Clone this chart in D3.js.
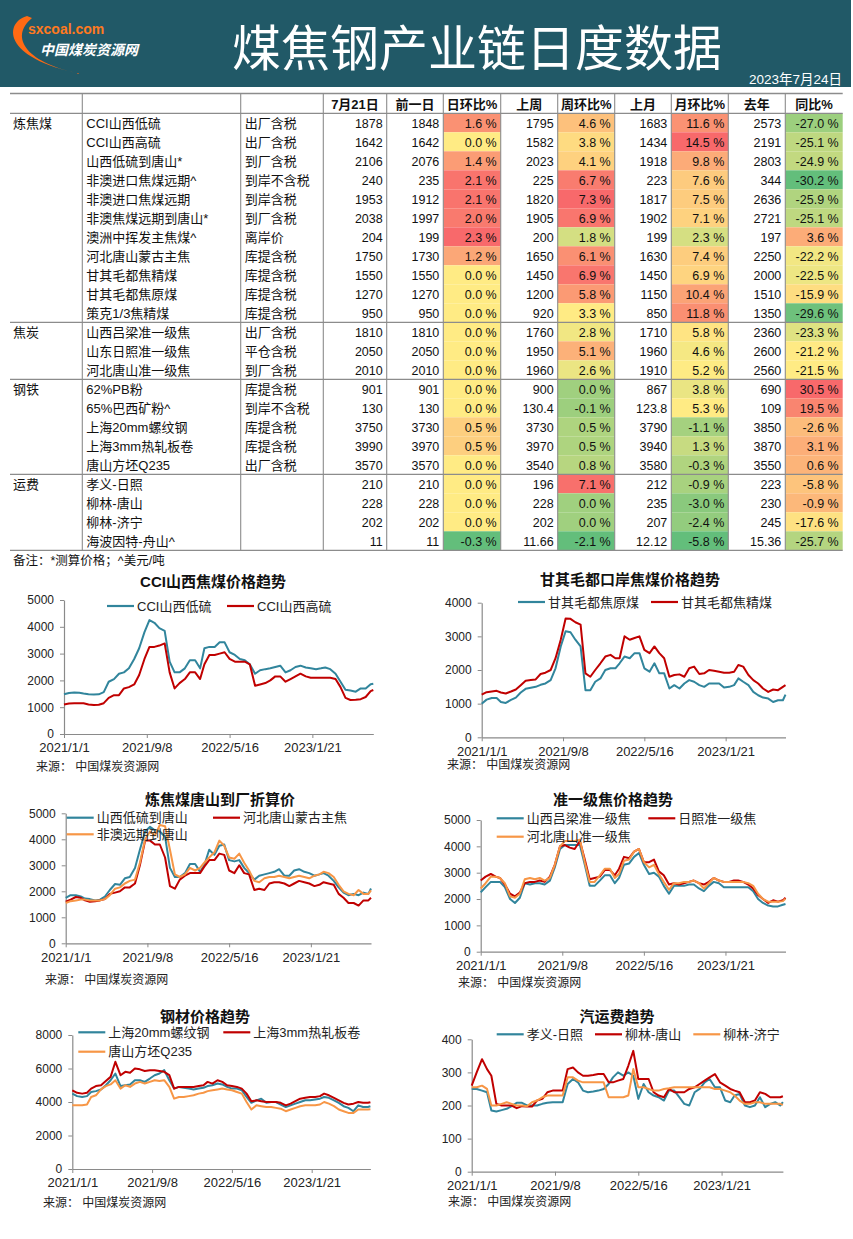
<!DOCTYPE html>
<html>
<head>
<meta charset="utf-8">
<script src="https://cdn.jsdelivr.net/npm/d3@7"></script>
<style>
  body { margin: 0; background: #fff; }
  svg { display: block; }
  text { font-family: "Liberation Sans", "Noto Sans CJK SC", sans-serif; }
</style>
</head>
<body>
<svg id="board" width="853" height="1239"></svg>
<script>
// ---- table data ----
const groups = [["炼焦煤", 11], ["焦炭", 3], ["钢铁", 5], ["运费", 4]];
const itemNames = ["CCI山西低硫", "CCI山西高硫", "山西低硫到唐山*", "非澳进口焦煤远期^", "非澳进口焦煤远期", "非澳焦煤远期到唐山*",
  "澳洲中挥发主焦煤^", "河北唐山蒙古主焦", "甘其毛都焦精煤", "甘其毛都焦原煤", "策克1/3焦精煤",
  "山西吕梁准一级焦", "山东日照准一级焦", "河北唐山准一级焦",
  "62%PB粉", "65%巴西矿粉^", "上海20mm螺纹钢", "上海3mm热轧板卷", "唐山方坯Q235",
  "孝义-日照", "柳林-唐山", "柳林-济宁", "海波因特-舟山^"];
const itemTypes = ["出厂含税", "出厂含税", "到厂含税", "到岸不含税", "到岸含税", "到厂含税", "离岸价", "库提含税", "库提含税", "库提含税", "库提含税",
  "出厂含税", "平仓含税", "到厂含税",
  "库提含税", "到岸不含税", "库提含税", "库提含税", "出厂含税",
  "", "", "", ""];
const headers = ["7月21日", "前一日", "日环比%", "上周", "周环比%", "上月", "月环比%", "去年", "同比%"];
const today = [1878, 1642, 2106, 240, 1953, 2038, 204, 1750, 1550, 1270, 950, 1810, 2050, 2010, 901, 130, 3750, 3990, 3570, 210, 228, 202, 11];
const prevDay = [1848, 1642, 2076, 235, 1912, 1997, 199, 1730, 1550, 1270, 950, 1810, 2050, 2010, 901, 130, 3730, 3970, 3570, 210, 228, 202, 11];
const dayChg = [1.6, 0.0, 1.4, 2.1, 2.1, 2.0, 2.3, 1.2, 0.0, 0.0, 0.0, 0.0, 0.0, 0.0, 0.0, 0.0, 0.5, 0.5, 0.0, 0.0, 0.0, 0.0, -0.3];
const lastWeek = [1795, 1582, 2023, 225, 1820, 1905, 200, 1650, 1450, 1200, 920, 1760, 1950, 1960, 900, 130.4, 3730, 3970, 3540, 196, 228, 202, 11.66];
const weekChg = [4.6, 3.8, 4.1, 6.7, 7.3, 6.9, 1.8, 6.1, 6.9, 5.8, 3.3, 2.8, 5.1, 2.6, 0.0, -0.1, 0.5, 0.5, 0.8, 7.1, 0.0, 0.0, -2.1];
const lastMonth = [1683, 1434, 1918, 223, 1817, 1902, 199, 1630, 1450, 1150, 850, 1710, 1960, 1910, 867, 123.8, 3790, 3940, 3580, 212, 235, 207, 12.12];
const monthChg = [11.6, 14.5, 9.8, 7.6, 7.5, 7.1, 2.3, 7.4, 6.9, 10.4, 11.8, 5.8, 4.6, 5.2, 3.8, 5.3, -1.1, 1.3, -0.3, -0.9, -3.0, -2.4, -5.8];
const lastYear = [2573, 2191, 2803, 344, 2636, 2721, 197, 2250, 2000, 1510, 1350, 2360, 2600, 2560, 690, 109, 3850, 3870, 3550, 223, 230, 245, 15.36];
const yoyChg = [-27.0, -25.1, -24.9, -30.2, -25.9, -25.1, 3.6, -22.2, -22.5, -15.9, -29.6, -23.3, -21.2, -21.5, 30.5, 19.5, -2.6, 3.1, 0.6, -5.8, -0.9, -17.6, -25.7];

// ---- chart data (half-monthly readings) ----
const dates = ["2021-01-01", "2021-01-16", "2021-02-01", "2021-02-16", "2021-03-01", "2021-03-16", "2021-04-01", "2021-04-16",
  "2021-05-01", "2021-05-16", "2021-06-01", "2021-06-16", "2021-07-01", "2021-07-16", "2021-08-01", "2021-08-16",
  "2021-09-01", "2021-09-16", "2021-10-01", "2021-10-16", "2021-11-01", "2021-11-16", "2021-12-01", "2021-12-16",
  "2022-01-01", "2022-01-16", "2022-02-01", "2022-02-16", "2022-03-01", "2022-03-16", "2022-04-01", "2022-04-16",
  "2022-05-01", "2022-05-16", "2022-06-01", "2022-06-16", "2022-07-01", "2022-07-16", "2022-08-01", "2022-08-16",
  "2022-09-01", "2022-09-16", "2022-10-01", "2022-10-16", "2022-11-01", "2022-11-16", "2022-12-01", "2022-12-16",
  "2023-01-01", "2023-01-16", "2023-02-01", "2023-02-16", "2023-03-01", "2023-03-16", "2023-04-01", "2023-04-16",
  "2023-05-01", "2023-05-16", "2023-06-01", "2023-06-16", "2023-07-01", "2023-07-16", "2023-07-24"];
const xTicks = ["2021-01-01", "2021-09-08", "2022-05-16", "2023-01-21"];

const cciLow = [1480, 1530, 1550, 1540, 1510, 1480, 1470, 1480, 1560, 1950, 2050, 2250, 2300, 2450, 2800, 3200, 3800, 4250, 4150, 3950,
  3850, 2700, 2300, 2300, 2450, 2750, 2750, 2450, 3200, 3250, 3250, 3420, 3420, 3050, 2950, 2800, 2750, 2600, 2250, 2380,
  2420, 2450, 2500, 2550, 2300, 2380, 2500, 2550, 2480, 2450, 2420, 2450, 2480, 2420, 2250, 1950, 1650, 1620, 1580, 1700,
  1700, 1860, 1878];
const cciHigh = [1100, 1140, 1150, 1150, 1150, 1100, 1080, 1090, 1150, 1350, 1450, 1450, 1700, 1750, 1850, 2200, 2800, 3250, 3250, 3300,
  3380, 2300, 1700, 1900, 2050, 2300, 2300, 2050, 2600, 2950, 2950, 3000, 3050, 2800, 2700, 2700, 2700, 2600, 1800, 1850,
  1900, 2000, 2150, 2150, 1950, 2050, 2150, 2250, 2150, 2100, 2100, 2100, 2100, 2100, 2050, 1750, 1350, 1270, 1280, 1300,
  1380, 1600, 1642];
const gqRaw = [1000, 1120, 1170, 1170, 1050, 1020, 1110, 1180, 1330, 1440, 1470, 1500, 1560, 1600, 1700, 2050, 2700, 3150, 3120, 2900,
  2700, 1400, 1400, 1650, 1750, 2000, 2050, 2050, 2200, 2400, 2350, 2500, 2500, 2050, 1950, 2200, 1900, 1900, 1450, 1550,
  1450, 1600, 1700, 1650, 1550, 1500, 1600, 1600, 1600, 1480, 1500, 1550, 1750, 1650, 1550, 1350, 1250, 1180, 1150, 1050,
  1100, 1100, 1270];
const gqClean = [1270, 1340, 1360, 1380, 1330, 1300, 1360, 1420, 1550, 1680, 1700, 1720, 1880, 1920, 2000, 2350, 2900, 3530, 3520, 3420,
  3350, 1900, 1800, 2000, 2200, 2400, 2450, 2350, 2350, 3000, 2900, 2950, 3000, 2600, 2500, 2700, 2500, 2350, 1800, 1850,
  1870, 1800, 2050, 2100, 1880, 1900, 2000, 1980, 1950, 1920, 1920, 1950, 2150, 2100, 1850, 1700, 1600, 1450, 1350, 1420,
  1400, 1500, 1550];
const tsLowS = [1750, 1850, 1850, 1800, 1720, 1700, 1650, 1680, 1800, 2050, 2280, 2250, 2500, 2550, 2900, 3600, 4300, 4480, 4350, 4300,
  4100, 2900, 2550, 2550, 2700, 3050, 3050, 2750, 3000, 3600, 3400, 3750, 3800, 3200, 3150, 3200, 2900, 2700, 2450, 2600,
  2650, 2700, 2750, 2850, 2600, 2600, 2800, 2850, 2750, 2700, 2600, 2650, 2700, 2600, 2400, 2150, 1950, 1850, 1900, 1850,
  1950, 1900, 2106];
const tsMongol = [1600, 1680, 1780, 1750, 1650, 1600, 1620, 1650, 1700, 1900, 1950, 2000, 2150, 2150, 2300, 3000, 3950, 3950, 3800, 3800,
  3300, 2200, 2100, 2450, 2600, 2700, 2700, 2700, 2950, 3200, 3200, 3450, 3400, 2800, 2700, 3000, 2700, 2650, 2050, 2100,
  2050, 2300, 2350, 2350, 2300, 2200, 2300, 2400, 2350, 2300, 2200, 2250, 2350, 2300, 2250, 1900, 1750, 1550, 1550, 1450,
  1650, 1650, 1750];
const tsNonAus = [1550, 1620, 1650, 1680, 1680, 1650, 1650, 1650, 1700, 1850, 2100, 2150, 2300, 2400, 2450, 3100, 4000, 4300, 4150, 4550,
  4500, 3600, 2650, 2550, 2650, 2900, 2800, 2900, 3100, 3300, 3500, 3950, 3750, 3300, 3250, 3450, 3100, 2800, 2400, 2350,
  2500, 2550, 2550, 2600, 2550, 2500, 2550, 2600, 2550, 2500, 2600, 2650, 2750, 2700, 2550, 2250, 2000, 1900, 1850, 2050,
  1900, 1900, 2038];
const llCoke = [2250, 2450, 2650, 2650, 2650, 2450, 2000, 1850, 2050, 2600, 2550, 2600, 2600, 2550, 2700, 3200, 3900, 4050, 4050, 4050,
  4050, 3300, 2500, 2500, 2700, 2900, 2900, 2600, 2800, 3300, 3350, 3600, 3750, 3300, 2950, 3000, 2850, 2500, 2200, 2500,
  2500, 2500, 2550, 2550, 2400, 2300, 2500, 2650, 2600, 2450, 2450, 2450, 2450, 2450, 2450, 2300, 2000, 1850, 1750, 1720,
  1720, 1780, 1810];
const rzCoke = [2700, 2850, 2950, 2850, 2800, 2550, 2200, 2100, 2250, 2600, 2650, 2650, 2700, 2650, 2850, 3300, 4000, 4050, 3950, 3900,
  4200, 3500, 2750, 2800, 2850, 3100, 3100, 2900, 3150, 3600, 3550, 3800, 3900, 3400, 3400, 3500, 3050, 2900, 2550, 2600,
  2550, 2600, 2650, 2700, 2600, 2550, 2650, 2800, 2700, 2650, 2650, 2700, 2700, 2650, 2550, 2400, 2150, 2000, 1850, 1950,
  1900, 1950, 2050];
const tsCoke = [2400, 2600, 2850, 2850, 2800, 2600, 2100, 2050, 2200, 2750, 2800, 2750, 2800, 2700, 2800, 3300, 4000, 4200, 4200, 4200,
  4250, 3400, 2650, 2650, 2900, 3150, 3150, 2800, 2950, 3450, 3500, 3800, 3900, 3400, 3200, 3300, 2950, 2650, 2350, 2600,
  2600, 2650, 2650, 2700, 2600, 2400, 2600, 2800, 2700, 2650, 2650, 2650, 2650, 2650, 2600, 2500, 2200, 2000, 1900, 1900,
  1900, 1920, 2010];
const rebar = [4500, 4350, 4300, 4350, 4600, 4650, 4750, 5000, 5300, 5700, 4950, 5000, 5050, 5300, 5300, 5200, 5400, 5600, 5700, 5900,
  5300, 4800, 4900, 4850, 4800, 4750, 4800, 4850, 4950, 5000, 5100, 5050, 4900, 4800, 4800, 4700, 4300, 3950, 4100, 4200,
  3950, 4000, 4000, 3850, 3700, 3800, 3900, 4000, 4100, 4100, 4150, 4200, 4300, 4250, 4100, 3950, 3750, 3650, 3450, 3800,
  3700, 3700, 3750];
const hotCoil = [4700, 4550, 4500, 4550, 4800, 4950, 5000, 5250, 5500, 6400, 5600, 5800, 5750, 6000, 5950, 5850, 5900, 5900, 5850, 5800,
  5600, 4800, 4900, 4900, 4900, 4900, 4950, 5000, 5200, 5100, 5300, 5200, 5000, 4950, 4900, 4800, 4500, 4050, 4100, 4050,
  4000, 4000, 4000, 3950, 3800, 3900, 4050, 4200, 4250, 4300, 4300, 4350, 4500, 4400, 4250, 4100, 3950, 3850, 3900, 4000,
  3950, 3950, 3990];
const billet = [3800, 3800, 3800, 3850, 4300, 4400, 4750, 4950, 5050, 5300, 4800, 5000, 4900, 5100, 5200, 5100, 5200, 5300, 5250, 5300,
  4900, 4200, 4300, 4300, 4350, 4400, 4500, 4550, 4650, 4700, 4750, 4800, 4750, 4700, 4600, 4500, 4000, 3550, 3800, 3750,
  3700, 3700, 3650, 3600, 3450, 3550, 3650, 3750, 3800, 3800, 3800, 3850, 4000, 3900, 3750, 3550, 3450, 3350, 3350, 3550,
  3550, 3550, 3570];
const xyRz = [250, 250, 245, 240, 185, 182, 186, 190, 198, 208, 208, 200, 200, 200, 205, 208, 210, 210, 210, 265,
  280, 270, 245, 240, 242, 245, 250, 265, 285, 300, 290, 300, 290, 220, 265, 240, 230, 225, 215, 245,
  245, 225, 205, 200, 240, 250, 270, 280, 255, 255, 215, 210, 230, 235, 200, 195, 200, 225, 195, 205,
  210, 200, 210];
const llTs = [260, 300, 340, 310, 290, 205, 200, 200, 200, 192, 198, 197, 197, 215, 220, 240, 245, 245, 245, 310,
  315, 300, 290, 290, 292, 295, 295, 270, 270, 275, 280, 320, 365, 280, 280, 280, 240, 230, 225, 250,
  240, 240, 240, 250, 255, 265, 275, 285, 295, 270, 260, 250, 245, 240, 210, 210, 215, 240, 235, 225,
  225, 225, 228];
const llJn = [255, 255, 260, 250, 200, 200, 205, 210, 205, 200, 200, 198, 210, 215, 225, 230, 230, 230, 230, 285,
  285, 275, 270, 270, 270, 270, 270, 225, 225, 225, 225, 230, 310, 255, 255, 250, 245, 245, 250, 252,
  255, 255, 255, 255, 255, 255, 255, 255, 250, 250, 245, 240, 230, 215, 205, 205, 210, 210, 205, 205,
  205, 205, 202];

const TEAL = "#31859C", RED = "#C00000", ORANGE = "#F79646";

const svg = d3.select("#board");
const parseDate = d3.timeParse("%Y-%m-%d");
const dateObjs = dates.map(parseDate);

// ---- header band ----
svg.append("rect").attr("x", 0).attr("y", 0).attr("width", 851).attr("height", 87).attr("fill", "#215967");
svg.append("path")
  .attr("d", "M27,16 C5,22 0,58 82,74 C28,64 8,38 32,18 Z")
  .attr("fill", "#FF6A13");
svg.append("text").attr("x", 28).attr("y", 34).attr("fill", "#FF7A1F")
  .attr("font-size", "14px").attr("font-weight", "bold").text("sxcoal.com");
svg.append("text").attr("x", 40).attr("y", 55).attr("fill", "#fff")
  .attr("font-size", "14px").attr("font-weight", "bold").attr("font-style", "italic").text("中国煤炭资源网");
svg.append("text").attr("x", 477).attr("y", 66).attr("fill", "#fff").attr("text-anchor", "middle")
  .attr("font-size", "49px").style("font-family", "'Noto Sans CJK SC', sans-serif").text("煤焦钢产业链日度数据");
svg.append("text").attr("x", 842).attr("y", 84).attr("fill", "#fff").attr("text-anchor", "end")
  .attr("font-size", "13.5px").text("2023年7月24日");

// ---- table ----
const colX = [10, 82.3, 240.7, 323.3, 386.7, 443.3, 500.7, 557.7, 614.7, 671.3, 728.3, 785.3, 842.7];
const tableTop = 93.5, headH = 19.8, rowH = 19;
const bodyTop = tableTop + headH;
const nRows = itemNames.length;
const tableBottom = bodyTop + nRows * rowH;
const numCols = [today, prevDay, dayChg, lastWeek, weekChg, lastMonth, monthChg, lastYear, yoyChg];
const isPct = [false, false, true, false, true, false, true, false, true];

const tbl = svg.append("g");

// conditional colours, one scale per percentage column
numCols.forEach((vals, c) => {
  if (!isPct[c]) return;
  const sorted = vals.slice().sort(d3.ascending);
  const color = d3.scaleLinear()
    .domain([d3.min(vals), d3.quantile(sorted, 0.5), d3.max(vals)])
    .range(["#63BE7B", "#FFEB84", "#F8696B"]);
  tbl.selectAll(null).data(vals).join("rect")
    .attr("x", colX[c + 3]).attr("y", (d, i) => bodyTop + i * rowH)
    .attr("width", colX[c + 4] - colX[c + 3]).attr("height", rowH)
    .attr("fill", d => color(d));
});

// grid lines
const hLines = [tableTop, bodyTop];
let acc = 0;
groups.forEach(g => { acc += g[1]; hLines.push(bodyTop + acc * rowH); });
tbl.selectAll(null).data(hLines).join("line")
  .attr("x1", colX[0]).attr("x2", colX[12])
  .attr("y1", d => d).attr("y2", d => d)
  .attr("stroke", "#8c8c8c").attr("stroke-width", 1.3);
tbl.selectAll(null).data(colX.slice(1, 12)).join("line")
  .attr("x1", d => d).attr("x2", d => d)
  .attr("y1", tableTop).attr("y2", tableBottom)
  .attr("stroke", "#8c8c8c").attr("stroke-width", 1.1);

// header labels
tbl.selectAll(null).data(headers).join("text")
  .attr("x", (d, i) => (colX[i + 3] + colX[i + 4]) / 2)
  .attr("y", tableTop + 15)
  .attr("text-anchor", "middle").attr("font-size", "13px").attr("font-weight", "bold")
  .attr("fill", "#111").text(d => d);

// group labels
acc = 0;
groups.forEach(g => {
  tbl.append("text").attr("x", 13).attr("y", bodyTop + acc * rowH + 14.5)
    .attr("font-size", "13px").attr("fill", "#111").text(g[0]);
  acc += g[1];
});

tbl.selectAll(null).data(itemNames).join("text")
  .attr("x", colX[1] + 4).attr("y", (d, i) => bodyTop + i * rowH + 14.5)
  .attr("font-size", "13px").attr("fill", "#111").text(d => d);
tbl.selectAll(null).data(itemTypes).join("text")
  .attr("x", colX[2] + 4).attr("y", (d, i) => bodyTop + i * rowH + 14.5)
  .attr("font-size", "13px").attr("fill", "#111").text(d => d);

numCols.forEach((vals, c) => {
  tbl.selectAll(null).data(vals).join("text")
    .attr("x", colX[c + 4] - 4)
    .attr("y", (d, i) => bodyTop + i * rowH + 14.5)
    .attr("text-anchor", "end").attr("font-size", "12.5px").attr("fill", "#111")
    .text(d => isPct[c] ? d.toFixed(1) + " %" : String(d));
});

svg.append("text").attr("x", 13).attr("y", tableBottom + 14.5)
  .attr("font-size", "12.5px").attr("fill", "#111").text("备注：*测算价格；^美元/吨");

// ---- line charts ----
const charts = [
  { title: "CCI山西焦煤价格趋势", tx: 213, ty: 587, x0: 64, x1: 373.3, y0: 734, y1: 600, max: 5000, step: 1000,
    series: [[cciLow, "CCI山西低硫", TEAL], [cciHigh, "CCI山西高硫", RED]],
    legend: [[107, 606], [227, 606]], src: [36, 771] },
  { title: "甘其毛都口岸焦煤价格趋势", tx: 630, ty: 585, x0: 481.7, x1: 785.5, y0: 737.3, y1: 602.7, max: 4000, step: 1000,
    series: [[gqRaw, "甘其毛都焦原煤", TEAL], [gqClean, "甘其毛都焦精煤", RED]],
    legend: [[518, 602], [651, 602]], src: [447, 769] },
  { title: "炼焦煤唐山到厂折算价", tx: 220, ty: 805, x0: 65.7, x1: 371, y0: 943.3, y1: 813.3, max: 5000, step: 1000,
    series: [[tsLowS, "山西低硫到唐山", TEAL], [tsMongol, "河北唐山蒙古主焦", RED], [tsNonAus, "非澳远期到唐山", ORANGE]],
    legend: [[66.7, 817.7], [213, 817.7], [66.7, 834.3]], src: [45, 984] },
  { title: "准一级焦价格趋势", tx: 613, ty: 805, x0: 480.7, x1: 785.5, y0: 951.7, y1: 820, max: 5000, step: 1000,
    series: [[llCoke, "山西吕梁准一级焦", TEAL], [rzCoke, "日照准一级焦", RED], [tsCoke, "河北唐山准一级焦", ORANGE]],
    legend: [[496.7, 818.3], [648.3, 818.3], [496.7, 836.7]], src: [458, 987] },
  { title: "钢材价格趋势", tx: 205, ty: 1022, x0: 72.3, x1: 370.4, y0: 1169, y1: 1035, max: 8000, step: 2000,
    series: [[rebar, "上海20mm螺纹钢", TEAL], [hotCoil, "上海3mm热轧板卷", RED], [billet, "唐山方坯Q235", ORANGE]],
    legend: [[78.3, 1032.3], [223.3, 1032.3], [78.3, 1051.7]], src: [43, 1207] },
  { title: "汽运费趋势", tx: 617, ty: 1022, x0: 471.7, x1: 782.9, y0: 1171.7, y1: 1039.3, max: 400, step: 100,
    series: [[xyRz, "孝义-日照", TEAL], [llTs, "柳林-唐山", RED], [llJn, "柳林-济宁", ORANGE]],
    legend: [[496.7, 1034.3], [595, 1034.3], [693.3, 1034.3]], src: [448, 1206] }
];

const fmtTick = d => `${d.getFullYear()}/${d.getMonth() + 1}/${d.getDate()}`;

charts.forEach(cfg => {
  const g = svg.append("g");
  const x = d3.scaleTime().domain([dateObjs[0], dateObjs[dateObjs.length - 1]]).range([cfg.x0, cfg.x1]);
  const y = d3.scaleLinear().domain([0, cfg.max]).range([cfg.y0, cfg.y1]);

  g.append("text").attr("x", cfg.tx).attr("y", cfg.ty).attr("text-anchor", "middle")
    .attr("font-size", "15px").attr("font-weight", "bold").attr("fill", "#111").text(cfg.title);

  const yAxis = g.append("g").attr("transform", `translate(${cfg.x0},0)`)
    .call(d3.axisLeft(y).tickValues(d3.range(0, cfg.max + 1, cfg.step)).tickFormat(d3.format("d"))
      .tickSize(4).tickSizeOuter(0).tickPadding(6));
  const xAxis = g.append("g").attr("transform", `translate(0,${cfg.y0})`)
    .call(d3.axisBottom(x).tickValues(xTicks.map(parseDate)).tickFormat(fmtTick).tickSize(4).tickSizeOuter(0).tickPadding(5));
  [yAxis, xAxis].forEach(a => {
    a.select(".domain").attr("stroke", "#8a8a8a").attr("stroke-width", 1.2);
    a.selectAll(".tick line").attr("stroke", "#8a8a8a");
    a.selectAll(".tick text").attr("fill", "#222").style("font-family", "'Liberation Sans', sans-serif");
  });
  yAxis.selectAll(".tick text").attr("font-size", "12px");
  xAxis.selectAll(".tick text").attr("font-size", "13px");

  const line = d3.line().x((d, i) => x(dateObjs[i])).y(d => y(d));
  cfg.series.forEach(s => {
    g.append("path").datum(s[0]).attr("d", line)
      .attr("fill", "none").attr("stroke", s[2]).attr("stroke-width", 2).attr("stroke-linejoin", "round");
  });

  cfg.series.forEach((s, k) => {
    const [lx, ly] = cfg.legend[k];
    g.append("line").attr("x1", lx).attr("x2", lx + 27).attr("y1", ly).attr("y2", ly)
      .attr("stroke", s[2]).attr("stroke-width", 2.2);
    g.append("text").attr("x", lx + 30).attr("y", ly + 4.5)
      .attr("font-size", "13px").attr("fill", "#222").text(s[1]);
  });

  g.append("text").attr("x", cfg.src[0]).attr("y", cfg.src[1])
    .attr("font-size", "12px").attr("fill", "#222").text("来源： 中国煤炭资源网");
});
</script>
</body>
</html>
